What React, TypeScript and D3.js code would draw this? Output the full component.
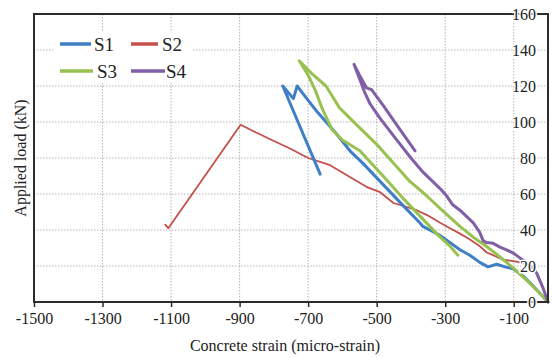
import { useEffect, useRef } from 'react';
import * as d3 from 'd3';

type Pt = [number, number];

// strain (micro-strain), load (kN)
const s1: Pt[] = [
  [0, 0], [-44, 9], [-70, 14], [-102, 18.5], [-125, 19.5], [-150, 21], [-175, 19.5], [-199, 22],
  [-228, 26], [-257, 29], [-315, 37], [-345, 40], [-365, 42], [-374, 44], [-420, 53], [-490, 67],
  [-540, 77], [-578, 84], [-620, 94], [-675, 106], [-700, 112], [-732, 120], [-743, 113],
  [-774, 120], [-665, 71],
];
const s2: Pt[] = [
  [-62, 21], [-92, 22.4], [-131, 23.5], [-160, 26], [-179, 27.5], [-199, 31], [-230, 35],
  [-257, 38], [-286, 41], [-315, 44], [-350, 48], [-383, 51], [-451, 55], [-490, 61],
  [-530, 64], [-583, 70], [-636, 76], [-700, 80], [-750, 85], [-806, 90], [-850, 94],
  [-897, 98.5], [-1108, 41], [-1117, 43],
];
const s3: Pt[] = [
  [0, 0], [-30, 6], [-62, 12], [-102, 19], [-140, 25], [-180, 31], [-218, 36], [-257, 42],
  [-315, 52], [-360, 60], [-403, 67], [-450, 77], [-502, 88], [-551, 97], [-609, 108],
  [-648, 120], [-690, 127], [-726, 134], [-700, 126], [-680, 118], [-660, 108], [-631, 96],
  [-600, 90], [-549, 84], [-472, 68], [-420, 57], [-370, 47], [-320, 37], [-286, 31], [-263, 26],
];
const s4: Pt[] = [
  [0, 0], [-15, 8], [-33, 16], [-45, 19], [-62, 22], [-82, 24.5], [-100, 27], [-121, 29],
  [-140, 30.5], [-160, 32.6], [-179, 33], [-189, 34], [-200, 39], [-218, 44], [-257, 51],
  [-278, 54], [-296, 59], [-315, 63], [-364, 72], [-400, 80], [-437, 89], [-490, 102],
  [-519, 110], [-534, 116], [-550, 124], [-566, 132], [-550, 126], [-530, 119], [-515, 118],
  [-480, 109], [-440, 98], [-388, 84],
];

const seriesNames = ['S1', 'S2', 'S3', 'S4'];
const xTicks = [-1500, -1300, -1100, -900, -700, -500, -300, -100];
const yTicks = [0, 20, 40, 60, 80, 100, 120, 140, 160];

const colors: Record<string, string> = { S1: '#3f7fc6', S2: '#c4504c', S3: '#98c150', S4: '#7f5fa6' };
const widths: Record<string, number> = { S1: 3, S2: 1.8, S3: 3, S4: 3 };

export default function App() {
  const svgRef = useRef<SVGSVGElement>(null);

  useEffect(() => {
    if (!svgRef.current) return;
    const svg = d3.select(svgRef.current);
    svg.selectAll('*').remove();

    const font = '"Liberation Serif", "Times New Roman", serif';
    const x = d3.scaleLinear().domain([-1500, 0]).range([34, 548]);
    const y = d3.scaleLinear().domain([0, 160]).range([302, 14]);

    svg.append('rect').attr('width', 552).attr('height', 358).attr('fill', '#fff');

    // dotted grid
    svg.append('g')
      .selectAll('line')
      .data(xTicks.slice(1))
      .join('line')
      .attr('x1', (d) => x(d)).attr('x2', (d) => x(d))
      .attr('y1', y(160)).attr('y2', y(0))
      .attr('stroke', '#b5b5b5').attr('stroke-dasharray', '1.5,1.5');
    svg.append('g')
      .selectAll('line')
      .data(yTicks.slice(1, -1))
      .join('line')
      .attr('x1', x(-1500)).attr('x2', x(0))
      .attr('y1', (d) => y(d)).attr('y2', (d) => y(d))
      .attr('stroke', '#b5b5b5').attr('stroke-dasharray', '1.5,1.5');

    // series
    const line = d3.line<Pt>().x((d) => x(d[0])).y((d) => y(d[1]));
    const order: [string, Pt[]][] = [['S2', s2], ['S1', s1], ['S3', s3], ['S4', s4]];
    order.forEach(([name, data]) => {
      svg.append('path')
        .datum(data)
        .attr('d', line)
        .attr('fill', 'none')
        .attr('stroke', colors[name])
        .attr('stroke-width', widths[name])
        .attr('stroke-linejoin', 'round')
        .attr('stroke-linecap', 'round');
    });

    // frame
    svg.append('rect')
      .attr('x', x(-1500)).attr('y', y(160))
      .attr('width', x(0) - x(-1500)).attr('height', y(0) - y(160))
      .attr('fill', 'none').attr('stroke', '#2b2b2b').attr('stroke-width', 2);

    // x axis
    const xAxis = svg.append('g')
      .attr('transform', `translate(0,${y(0)})`)
      .call(d3.axisBottom(x).tickValues(xTicks).tickSize(5).tickPadding(6).tickFormat((d) => String(d)));
    xAxis.select('.domain').remove();
    xAxis.selectAll('line').attr('stroke', '#2b2b2b').attr('stroke-width', 1.5);
    xAxis.selectAll('text')
      .attr('font-family', font).attr('font-size', 16).attr('fill', '#222');

    // y axis labels sit inside the plot, left of x = 0
    const yAxis = svg.append('g')
      .attr('transform', `translate(${x(0) - 12},0)`)
      .call(d3.axisLeft(y).tickValues(yTicks).tickSize(0).tickPadding(0));
    yAxis.select('.domain').remove();
    yAxis.selectAll('text')
      .attr('font-family', font).attr('font-size', 16).attr('fill', '#222')
      .attr('stroke', '#fff').attr('stroke-width', 3).attr('paint-order', 'stroke');

    // axis titles
    svg.append('text')
      .attr('x', 285).attr('y', 351)
      .attr('text-anchor', 'middle')
      .attr('font-family', font).attr('font-size', 16).attr('fill', '#222')
      .text('Concrete strain (micro-strain)');
    svg.append('text')
      .attr('transform', 'translate(26,158) rotate(-90)')
      .attr('text-anchor', 'middle')
      .attr('font-family', font).attr('font-size', 16).attr('fill', '#222')
      .text('Applied load (kN)');

    // legend
    const lg = svg.append('g');
    lg.append('rect').attr('x', 54).attr('y', 31).attr('width', 138).attr('height', 51).attr('fill', '#fff');
    const pos: Record<string, [number, number, number, number]> = {
      S1: [60, 91, 44, 94],
      S2: [131, 158, 44, 162],
      S3: [60, 93, 71, 97],
      S4: [131, 165, 71, 166],
    };
    seriesNames.forEach((name) => {
      const [x1, x2, ly, tx] = pos[name];
      lg.append('line')
        .attr('x1', x1).attr('x2', x2).attr('y1', ly).attr('y2', ly)
        .attr('stroke', colors[name]).attr('stroke-width', 3.5);
      lg.append('text')
        .attr('x', tx).attr('y', ly + 7)
        .attr('font-family', font).attr('font-size', 19).attr('fill', '#222')
        .text(name);
    });
  }, []);

  return (
    <svg
      ref={svgRef}
      width={552}
      height={358}
      style={{ position: 'absolute', left: 0, top: 0 }}
    />
  );
}
